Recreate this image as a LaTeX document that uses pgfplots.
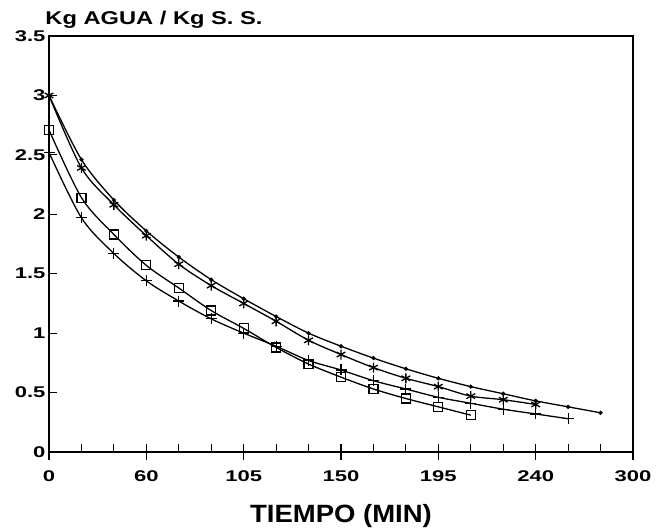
\documentclass[border=0pt]{standalone}
\usepackage{fontspec}
\setmainfont{Liberation Sans}
\usepackage{graphicx}
\usepackage{pgfplots}
\pgfplotsset{compat=1.18}
\newcommand{\wide}[1]{\scalebox{1.42}[1]{#1}}

% x in plot units: one minor tick = 15
\pgfplotstableread{
x y
0 3.00
15 2.46
30 2.12
45 1.86
60 1.64
75 1.45
90 1.29
105 1.14
120 1.00
135 0.89
150 0.79
165 0.70
180 0.62
195 0.55
210 0.49
225 0.43
240 0.38
255 0.33
}\topline
\pgfplotstableread{
x y
0 3.00
15 2.39
30 2.08
45 1.82
60 1.58
75 1.40
90 1.25
105 1.10
120 0.94
135 0.82
150 0.71
165 0.62
180 0.55
195 0.47
210 0.44
225 0.40
}\stars
\pgfplotstableread{
x y
0 2.71
15 2.14
30 1.83
45 1.57
60 1.38
75 1.19
90 1.04
105 0.88
120 0.74
135 0.63
150 0.53
165 0.45
180 0.38
195 0.31
}\squares
\pgfplotstableread{
x y
0 2.52
15 1.97
30 1.67
45 1.44
60 1.27
75 1.12
90 1.00
105 0.89
120 0.77
135 0.69
150 0.60
165 0.53
180 0.46
195 0.41
210 0.36
225 0.32
240 0.28
}\pluses

\begin{document}
\begin{tikzpicture}
\begin{axis}[
  scale only axis, width=584pt, height=416pt,
  xmin=0, xmax=270, ymin=0, ymax=3.5,
  clip=false,
  axis line style={line width=1.4pt},
  xtick={0,45,...,270},
  xticklabels={\wide{0},\wide{60},\wide{105},\wide{150},\wide{195},\wide{240},\wide{300}},
  minor x tick num=2,
  ytick={0,0.5,...,3.5},
  yticklabel={\wide{\pgfmathprintnumber{\tick}}},
  xtick pos=bottom, ytick pos=left,
  tick align=inside,
  major tick length=8pt, minor tick length=8pt,
  every tick/.style={line width=1.2pt, black},
  extra x ticks={0,45,...,270},
  extra x tick style={tick align=outside, xticklabel={}},
  /pgf/number format/assume math mode=true,
  tick label style={font=\bfseries\fontsize{15.5}{18}\selectfont},
  xticklabel shift=15pt,
  every axis plot/.append style={line width=1.3pt, black},
]
\addplot[smooth, tension=0.5, mark=*, mark size=1.4pt] table {\topline};
\addplot[smooth, tension=0.5, mark=asterisk, mark size=5pt, mark options={line width=1.3pt}] table {\stars};
\addplot[smooth, tension=0.5, mark=square, mark size=4.5pt, mark options={line width=1.2pt, fill=white}] table {\squares};
\addplot[smooth, tension=0.5, mark=+, mark size=5.5pt, mark options={line width=1.2pt}] table {\pluses};
\coordinate (tl) at (axis cs:0,3.5);
\coordinate (bl) at (axis cs:0,0);
\coordinate (bm) at (axis cs:135,0);
\coordinate (tr) at (axis cs:270,3.5);
\end{axis}
\node[anchor=base, inner sep=0pt, font=\bfseries\fontsize{18.5}{22}\selectfont]
  at ([xshift=105pt, yshift=11pt]tl) {\scalebox{1.28}[1]{Kg AGUA / Kg S. S.}};
\node[anchor=base, inner sep=0pt, font=\bfseries\fontsize{25}{30}\selectfont]
  at ([yshift=-70pt]bm) {\scalebox{1.1}[1]{TIEMPO (MIN)}};
\path (bl) ++(-49pt,-75pt) coordinate (bbA);
\path (tr) ++(24pt,36pt) coordinate (bbB);
\pgfresetboundingbox
\path (bbA) rectangle (bbB);
\end{tikzpicture}
\end{document}
